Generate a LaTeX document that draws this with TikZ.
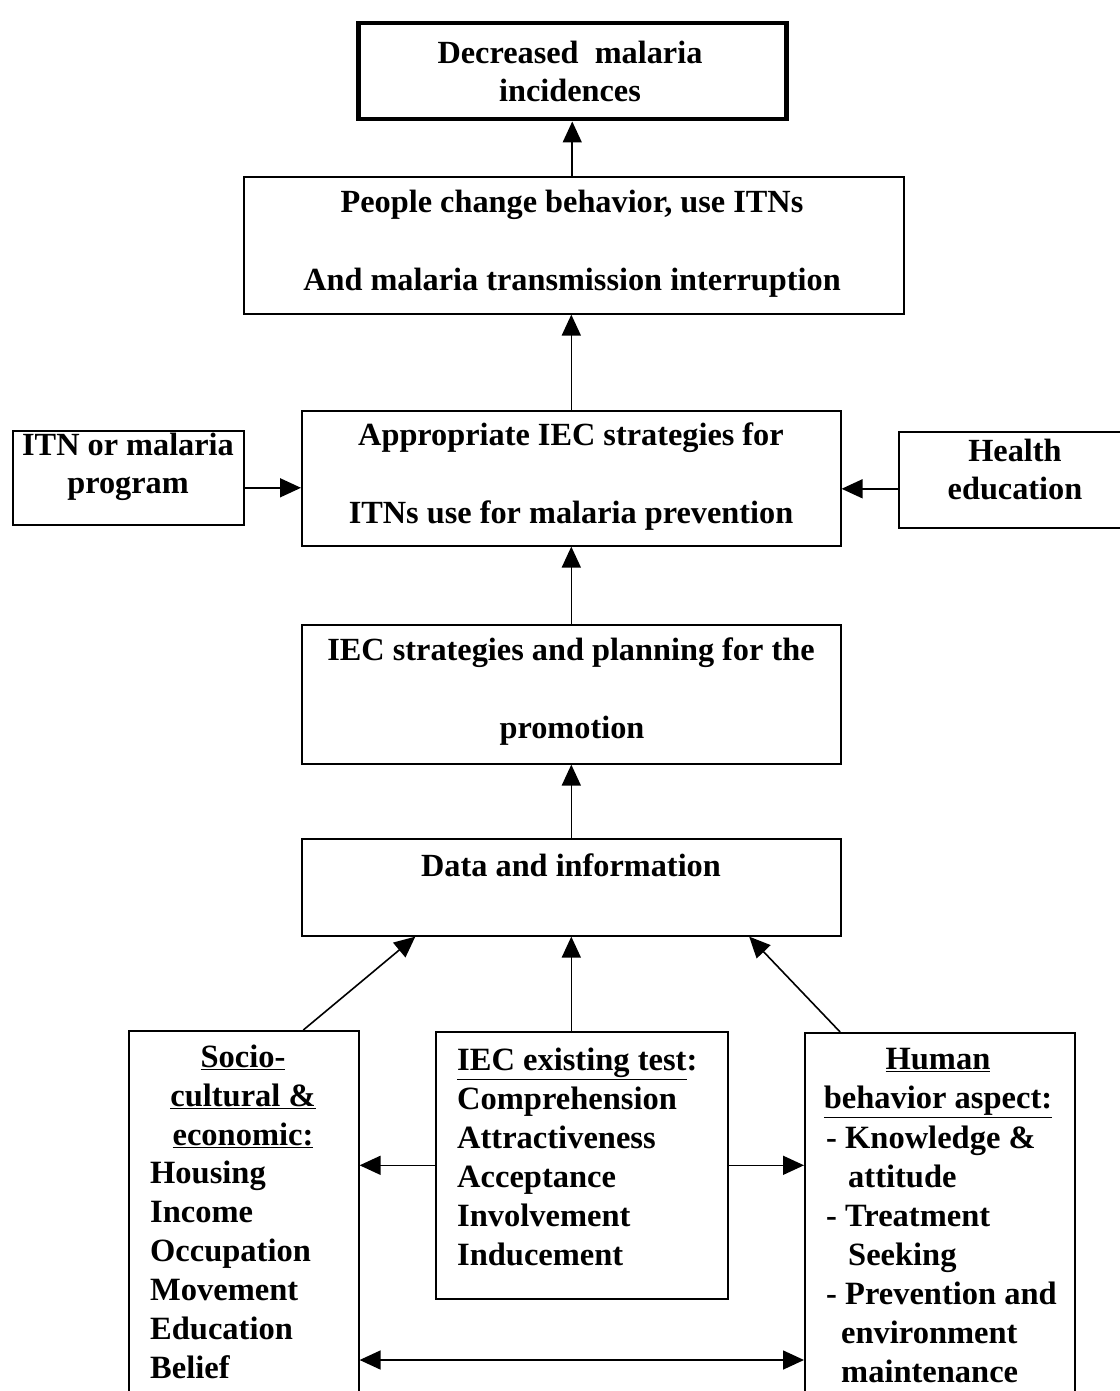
\documentclass[tikz,border=0pt]{standalone}
\usepackage{fontspec}
\setmainfont{Liberation Serif}
\usetikzlibrary{arrows.meta,calc}
\begin{document}
\begin{tikzpicture}[x=1pt,y=-1pt,
  box/.style={draw, line width=1.6pt, inner sep=0pt, anchor=north west},
  txt/.style={font=\bfseries\fontsize{32.3}{38}\selectfont, inner sep=0pt, align=center},
  ltxt/.style={font=\bfseries\fontsize{32.5}{39}\selectfont, inner sep=0pt, align=left, anchor=north west},
  arr/.style={line width=1.6pt, -{Triangle[length=21pt,width=19pt]}},
  darr/.style={line width=1.6pt, {Triangle[length=21pt,width=19pt]}-{Triangle[length=21pt,width=19pt]}}]
\useasboundingbox (0,0) rectangle (1119,1391);
\fill[white] (0,0) rectangle (1119,1391);
% boxes
\node[box, line width=4.5pt, minimum width=428pt, minimum height=96pt] (top) at (356,21) {};
\node[box, minimum width=660pt, minimum height=137pt] (b2) at (243,176) {};
\node[box, minimum width=539pt, minimum height=135pt] (b3) at (301,410) {};
\node[box, minimum width=231pt, minimum height=94pt] (itn) at (12,430) {};
\node[box, minimum width=230pt, minimum height=96pt] (he) at (898,431) {};
\node[box, minimum width=539pt, minimum height=139pt] (b4) at (301,624) {};
\node[box, minimum width=539pt, minimum height=97pt] (b5) at (301,838) {};
\node[box, minimum width=230pt, minimum height=400pt] (sl) at (128,1030) {};
\node[box, minimum width=292pt, minimum height=267pt] (sm) at (435,1031) {};
\node[box, minimum width=270pt, minimum height=400pt] (sr) at (804,1032) {};
% texts
\node[txt] (topT) at (570,71) {Decreased\ \ malaria\\incidences};
\node[txt] (b2a) at (572,205) {People change behavior, use ITNs};
\node[txt] (b2b) at (572,283) {And malaria transmission interruption};
\node[txt] (b3a) at (571,438) {Appropriate IEC strategies for};
\node[txt] (b3b) at (571,516) {ITNs use for malaria prevention};
\node[txt] (itnT) at (128,467) {ITN or malaria\\program};
\node[txt] (heT) at (1015,469) {Health\\education};
\node[txt] (b4a) at (571,653) {IEC strategies and planning for the};
\node[txt] (b4b) at (572,731) {promotion};
\node[txt] (b5T) at (571,865) {Data and information};
\node[txt, anchor=north, font=\bfseries\fontsize{32.5}{39}\selectfont] (slH) at (243,1045) {\underline{Socio-}\\\underline{cultural \&}\\\underline{economic:}};
\node[ltxt] (slL) at (150,1161) {Housing\\Income\\Occupation\\Movement\\Education\\Belief};
\node[ltxt] (smL) at (457,1048) {\underline{IEC existing test}:\\Comprehension\\Attractiveness\\Acceptance\\Involvement\\Inducement};
\node[txt, anchor=north, font=\bfseries\fontsize{32.5}{39}\selectfont] (srH) at (938,1048) {\underline{Human}\\\underline{behavior aspect:}};
\node[ltxt] (srL) at (826,1126) {- Knowledge \&\\\hspace*{22pt}attitude\\- Treatment\\\hspace*{22pt}Seeking\\- Prevention and\\\hspace*{15pt}environment\\\hspace*{15pt}maintenance};
% connectors
\draw[arr] (b2.north -| top.south) -- (top.south);
\draw[arr] (b3.north) -- (b3.north |- b2.south);
\draw[arr] ([yshift=-10pt]itn.east) -- ([yshift=-10pt]itn.east -| b3.west);
\draw[arr] ([yshift=-9pt]he.west) -- ([yshift=-9pt]he.west -| b3.east);
\draw[arr] (b4.north) -- (b3.south);
\draw[arr] (b5.north) -- (b4.south);
\draw[arr] ($(sl.north west)!0.757!(sl.north east)$) -- ($(b5.south west)!0.2115!(b5.south east)$);
\draw[arr] (b5.south |- sm.north) -- (b5.south);
\draw[arr] ($(sr.north west)!0.133!(sr.north east)$) -- ($(b5.south west)!0.829!(b5.south east)$);
\draw[arr] (sm.west) -- (sm.west -| sl.east);
\draw[arr] (sm.east) -- (sm.east -| sr.west);
\draw[darr] (sl.east |- 0,1360) -- (sr.west |- 0,1360);
\end{tikzpicture}
\end{document}
